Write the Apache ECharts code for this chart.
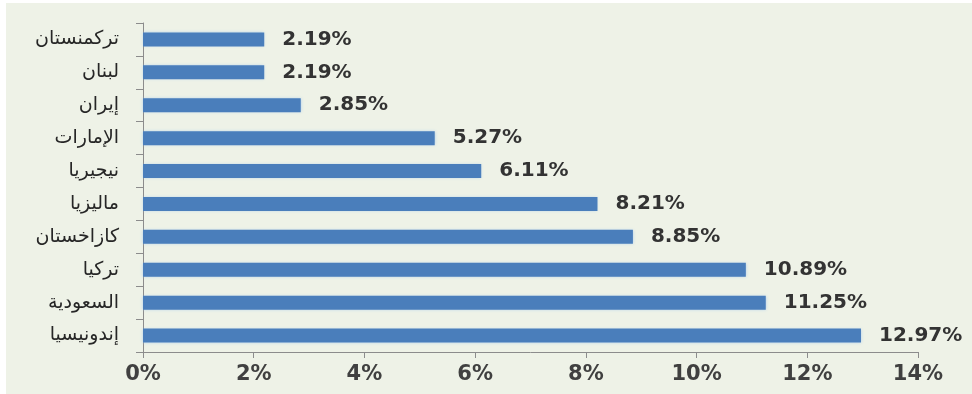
<!doctype html>
<html lang="ar">
<head>
    <meta charset="UTF-8">
    <title>Chart</title>
    <script src="https://cdn.jsdelivr.net/npm/echarts@6/dist/echarts.min.js"></script>
    <style>
        html, body { margin: 0; padding: 0; background: #ffffff; }
        #panel {
            position: absolute; left: 6px; top: 3px; width: 966px; height: 391px;
            background: #eef2e7;
        }
        #chart { position: absolute; left: 0; top: 0; width: 972px; height: 394px; }
    </style>
</head>
<body>
    <div id="panel"></div>
    <div id="chart"></div>

    <script>
        // categories top to bottom
        const countries = ['تركمنستان', 'لبنان', 'إيران', 'الإمارات', 'نيجيريا', 'ماليزيا', 'كازاخستان', 'تركيا', 'السعودية', 'إندونيسيا'];
        const shares = [2.19, 2.19, 2.85, 5.27, 6.11, 8.21, 8.85, 10.89, 11.25, 12.97];

        const chart = echarts.init(document.getElementById('chart'));
        chart.setOption({
            backgroundColor: 'transparent',
            animation: false,
            grid: { left: 143, right: 54, top: 23, bottom: 42 },
            xAxis: {
                type: 'value',
                min: 0, max: 14, interval: 2,
                axisLine: { show: true, lineStyle: { color: '#8c8c8c', width: 1 } },
                axisTick: { show: true, length: 6, lineStyle: { color: '#8c8c8c' } },
                splitLine: { show: false },
                axisLabel: {
                    formatter: '{value}%',
                    fontFamily: 'DejaVu Sans', fontSize: 21, fontWeight: 'bold', color: '#404040',
                    margin: 12
                }
            },
            yAxis: {
                type: 'category',
                data: countries,
                inverse: true,
                axisLine: { show: true, lineStyle: { color: '#8c8c8c', width: 1 } },
                axisTick: { show: true, length: 7, alignWithLabel: false, lineStyle: { color: '#8c8c8c' } },
                axisLabel: {
                    fontFamily: 'DejaVu Sans', fontSize: 19, color: '#262626',
                    margin: 24
                }
            },
            series: [{
                type: 'bar',
                data: shares,
                barWidth: 14,
                itemStyle: {
                    color: '#4a7ebb',
                    shadowColor: 'rgba(170,205,240,0.9)',
                    shadowBlur: 3
                },
                label: {
                    show: true,
                    position: 'right',
                    distance: 18,
                    formatter: p => p.value.toFixed(2) + '%',
                    fontFamily: 'DejaVu Sans', fontSize: 20, fontWeight: 'bold', color: '#333333'
                }
            }]
        });
    </script>
</body>
</html>
